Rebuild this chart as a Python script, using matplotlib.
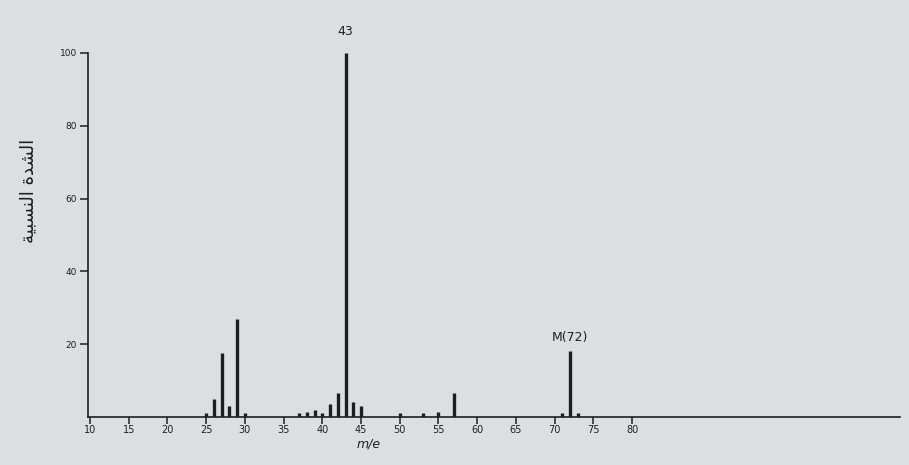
import matplotlib
matplotlib.use("Agg")
import matplotlib.pyplot as plt

# mass spectrum of butanone (m/e vs relative intensity)
mz = [25, 26, 27, 28, 29, 30, 37, 38, 39, 40, 41, 42, 43, 44, 45,
      50, 53, 55, 57, 71, 72, 73]
intensity = [1, 5, 17.5, 3, 27, 1, 1, 1.5, 2, 1, 3.5, 6.5, 100, 4, 3,
             1, 1, 1.5, 6.5, 1, 18, 1]

xticks = list(range(10, 85, 5))
yticks = [20, 40, 60, 80, 100]

# Arabic "relative intensity", written in presentation forms in visual order
# because matplotlib does no Arabic shaping
ylabel = "\ufe94\ufef4\ufe92\ufeb4\ufee8\ufedf\ufe8d \ufe93\ufeaa\ufeb8\ufedf\ufe8d"

bg = "#dcdfe2"
ink = "#1e1e1e"

fig = plt.figure(figsize=(9.09, 4.65), dpi=100, facecolor=bg)
ax = fig.add_axes([88 / 909, 48 / 465, 812 / 909, 364 / 465], facecolor=bg)

ax.vlines(mz, 0, intensity, color=ink, linewidth=2.4)

ax.set_xlim(9.75, 114.6)
ax.set_ylim(0, 100)

for side in ("top", "right"):
    ax.spines[side].set_visible(False)
ax.spines["left"].set_bounds(0, 100)
for side in ("left", "bottom"):
    ax.spines[side].set_color(ink)
    ax.spines[side].set_linewidth(1.2)

ax.set_xticks(xticks)
ax.set_xticklabels([str(t) for t in xticks])
ax.set_yticks(yticks)
ax.set_yticklabels([str(t) for t in yticks])
ax.tick_params(axis="x", direction="out", length=5, width=1.1, pad=1,
               labelsize=7, colors=ink)
ax.tick_params(axis="y", direction="out", length=6, width=1.1, pad=2,
               labelsize=6.5, colors=ink)

ax.set_xlabel("m/e", fontsize=9, style="italic", color=ink)
ax.xaxis.set_label_coords(0.345, -0.055)

ax.set_ylabel(ylabel, fontsize=13, color=ink, family=["DejaVu Sans"])
ax.yaxis.set_label_coords(-0.062, 0.62)

ax.text(43, 104, "43", ha="center", va="bottom", fontsize=9, color=ink,
        clip_on=False)
ax.text(72, 20, "M(72)", ha="center", va="bottom", fontsize=9, color=ink)

fig.savefig("out.png", dpi=100, facecolor=bg)
